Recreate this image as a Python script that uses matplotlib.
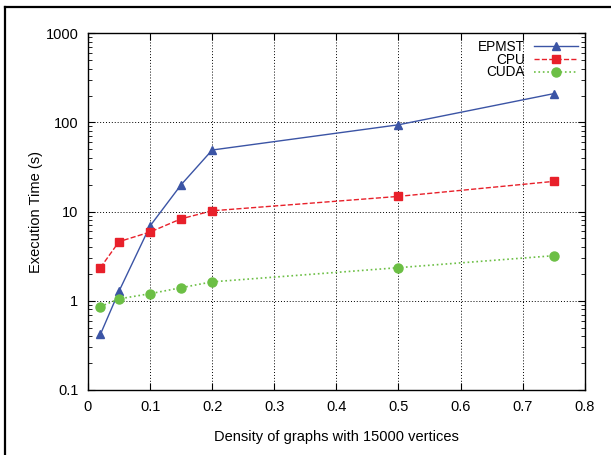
import numpy as np
import matplotlib
matplotlib.use('Agg')
import matplotlib.pyplot as plt
from matplotlib.lines import Line2D
from matplotlib.ticker import LogLocator, NullFormatter

plt.rcParams['font.family'] = ['Liberation Sans', 'DejaVu Sans']

# densities of the graphs
density = [0.02, 0.05, 0.1, 0.15, 0.2, 0.5, 0.75]

# execution times in seconds
epmst = [0.42, 1.28, 6.9, 20.0, 49.0, 94.0, 210.0]
cpu = [2.35, 4.6, 5.9, 8.3, 10.2, 14.8, 21.8]
cuda = [0.86, 1.05, 1.2, 1.4, 1.63, 2.35, 3.2]

xticks = [0, 0.1, 0.2, 0.3, 0.4, 0.5, 0.6, 0.7, 0.8]
ytick_labels = ['0.1', '1', '10', '100', '1000']

fig = plt.figure(figsize=(6.11, 4.55), dpi=100)
ax = fig.add_axes([0.144, 0.143, 0.813, 0.784])

ax.plot(density, epmst, color='#3b54a5', ls='-', lw=1, marker='^', ms=6, label='EPMST')
ax.plot(density, cpu, color='#e8202a', ls='--', lw=1, marker='s', ms=6, label='CPU')
ax.plot(density, cuda, color='#6cbf45', ls=':', lw=1.2, marker='o', ms=6.5, label='CUDA')

ax.set_yscale('log')
ax.set_xlim(0, 0.8)
ax.set_ylim(0.1, 1000)
ax.set_xticks(xticks)
ax.set_xticklabels([('%g' % t) for t in xticks])
ax.set_yticks([0.1, 1, 10, 100, 1000])
ax.set_yticklabels(ytick_labels)
ax.yaxis.set_minor_locator(LogLocator(base=10, subs=np.arange(2, 10)))
ax.yaxis.set_minor_formatter(NullFormatter())

ax.tick_params(which='both', direction='in', top=True, right=True, labelsize=10.5, pad=7)
ax.tick_params(which='major', length=5, width=0.8)
ax.tick_params(which='minor', length=3, width=0.6)

ax.grid(True, which='major', color='black', ls=(0, (1, 2)), lw=0.7)
for s in ax.spines.values():
    s.set_linewidth(1.0)

ax.set_xlabel('Density of graphs with 15000 vertices', fontsize=10.5, labelpad=12)
ax.set_ylabel('Execution Time (s)', fontsize=10.5, labelpad=2)

leg = ax.legend(loc='upper right', frameon=False, markerfirst=False, fontsize=9.8,
                handlelength=3.2, labelspacing=-0.1, borderaxespad=0.1, handletextpad=0.7)

# outer frame (only left and top visible)
fx = 5.0 / 611
fy = 1 - 7.0 / 455
fig.add_artist(Line2D([fx, fx], [0, fy], color='black', lw=1.6, transform=fig.transFigure))
fig.add_artist(Line2D([fx, 1], [fy, fy], color='black', lw=1.6, transform=fig.transFigure))

fig.savefig('out.png', dpi=100)
